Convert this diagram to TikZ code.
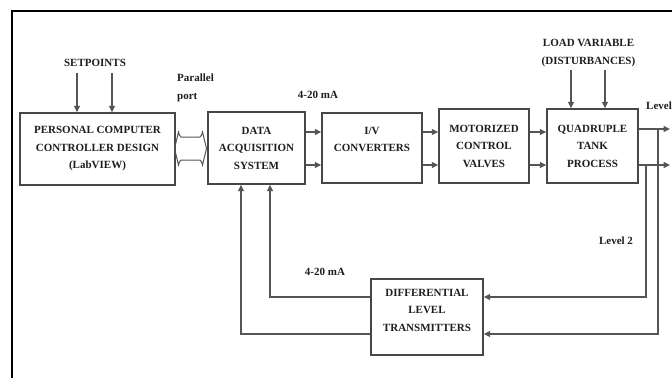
\documentclass[tikz,border=0pt]{standalone}
\usepackage{fontspec}
\setmainfont{Liberation Serif}
\usetikzlibrary{arrows.meta}
\definecolor{boxc}{HTML}{474747}
\definecolor{linec}{HTML}{555555}
\definecolor{txtc}{HTML}{1E1E1E}
\tikzset{
  blk/.style={draw=boxc, line width=1.4pt, align=center, text=txtc,
    font=\fontsize{11}{17.5}\selectfont\bfseries, inner sep=0pt},
  lbl/.style={text=txtc, font=\fontsize{11}{18}\selectfont\bfseries, inner sep=0pt, align=center},
  arr/.style={draw=linec, line width=1.1pt, -{Triangle[length=6.5pt,width=6pt]}},
}
\begin{document}
\begin{tikzpicture}[x=1pt,y=-1pt]
\useasboundingbox (0,0) rectangle (672,378);
\fill[white] (0,0) rectangle (672,378);
% frame
\draw[black, line width=2.5pt] (12,378) -- (12,11) -- (673,11);

% blocks
\node[blk, minimum width=155pt, minimum height=72pt] (pc) at (97.5,149)
  {PERSONAL COMPUTER\\CONTROLLER DESIGN\\(LabVIEW)};
\node[blk, minimum width=97pt, minimum height=72pt] (daq) at (256.5,148)
  {DATA\\ACQUISITION\\SYSTEM};
\node[blk, minimum width=100pt, minimum height=70pt] (iv) at (372,148)
  {I/V\\CONVERTERS\\\mbox{}};
\node[blk, minimum width=90pt, minimum height=74pt] (mcv) at (484,146)
  {MOTORIZED\\CONTROL\\VALVES};
\node[blk, minimum width=91pt, minimum height=74pt] (qtp) at (592.5,146)
  {QUADRUPLE\\TANK\\PROCESS};
\node[blk, minimum width=112pt, minimum height=76pt] (dlt) at (427,317)
  {DIFFERENTIAL\\LEVEL\\TRANSMITTERS\\[-4pt]\mbox{}};

% labels
\node[lbl] (sp) at (95,63) {SETPOINTS};
\node[lbl] (load) at (588.5,53) {LOAD VARIABLE\\(DISTURBANCES)};
\node[lbl, anchor=west, align=left] (pp) at (177,88) {Parallel\\port};
\node[lbl] (ma1) at (318,95) {4-20 mA};
\node[lbl] (ma2) at (325,272) {4-20 mA};
\node[lbl] (lv2) at (616,241) {Level 2};
\node[lbl, anchor=west] (lv1) at (646,106) {Level};

% setpoint arrows
\coordinate (s1) at (77,73);
\coordinate (s2) at (112,73);
\draw[arr] (s1) -- (s1 |- pc.north);
\draw[arr] (s2) -- (s2 |- pc.north);

% load arrows
\coordinate (l1) at (571,70);
\coordinate (l2) at (605,70);
\draw[arr] (l1) -- (l1 |- qtp.north);
\draw[arr] (l2) -- (l2 |- qtp.north);

% parallel port double hollow arrow
\draw[linec, line width=1pt]
  (181,137) -- (200,137) .. controls (201.5,136) and (202,134) .. (202.5,132)
  -- (206.5,148.5) -- (202.5,165) .. controls (202,163) and (201.5,161) .. (200,160)
  -- (181,160) .. controls (179.5,161) and (179,163) .. (178.5,165)
  -- (174.5,148.5) -- (178.5,132) .. controls (179,134) and (179.5,136) .. (181,137) -- cycle;

% forward arrows
\draw[arr] (daq.east |- 0,132) -- (iv.west |- 0,132);
\draw[arr] (daq.east |- 0,165) -- (iv.west |- 0,165);
\draw[arr] (iv.east |- 0,132) -- (mcv.west |- 0,132);
\draw[arr] (iv.east |- 0,165) -- (mcv.west |- 0,165);
\draw[arr] (mcv.east |- 0,132) -- (qtp.west |- 0,132);
\draw[arr] (mcv.east |- 0,165) -- (qtp.west |- 0,165);

% outputs
\coordinate (o1) at (670,129);
\coordinate (o2) at (670,165);
\draw[arr] (qtp.east |- o1) -- (o1);
\draw[arr] (qtp.east |- o2) -- (o2);

% feedback to DLT
\coordinate (b1) at (658,129);
\coordinate (b2) at (646,165);
\draw[arr] (b1) -- (658,334) -- (dlt.east |- 0,334);
\draw[arr] (b2) -- (646,297) -- (dlt.east |- 0,297);

% DLT to DAQ
\coordinate (d1) at (270,297);
\coordinate (d2) at (241,334);
\draw[arr] (dlt.west |- d1) -- (d1) -- (d1 |- daq.south);
\draw[arr] (dlt.west |- d2) -- (d2) -- (d2 |- daq.south);
\end{tikzpicture}
\end{document}
